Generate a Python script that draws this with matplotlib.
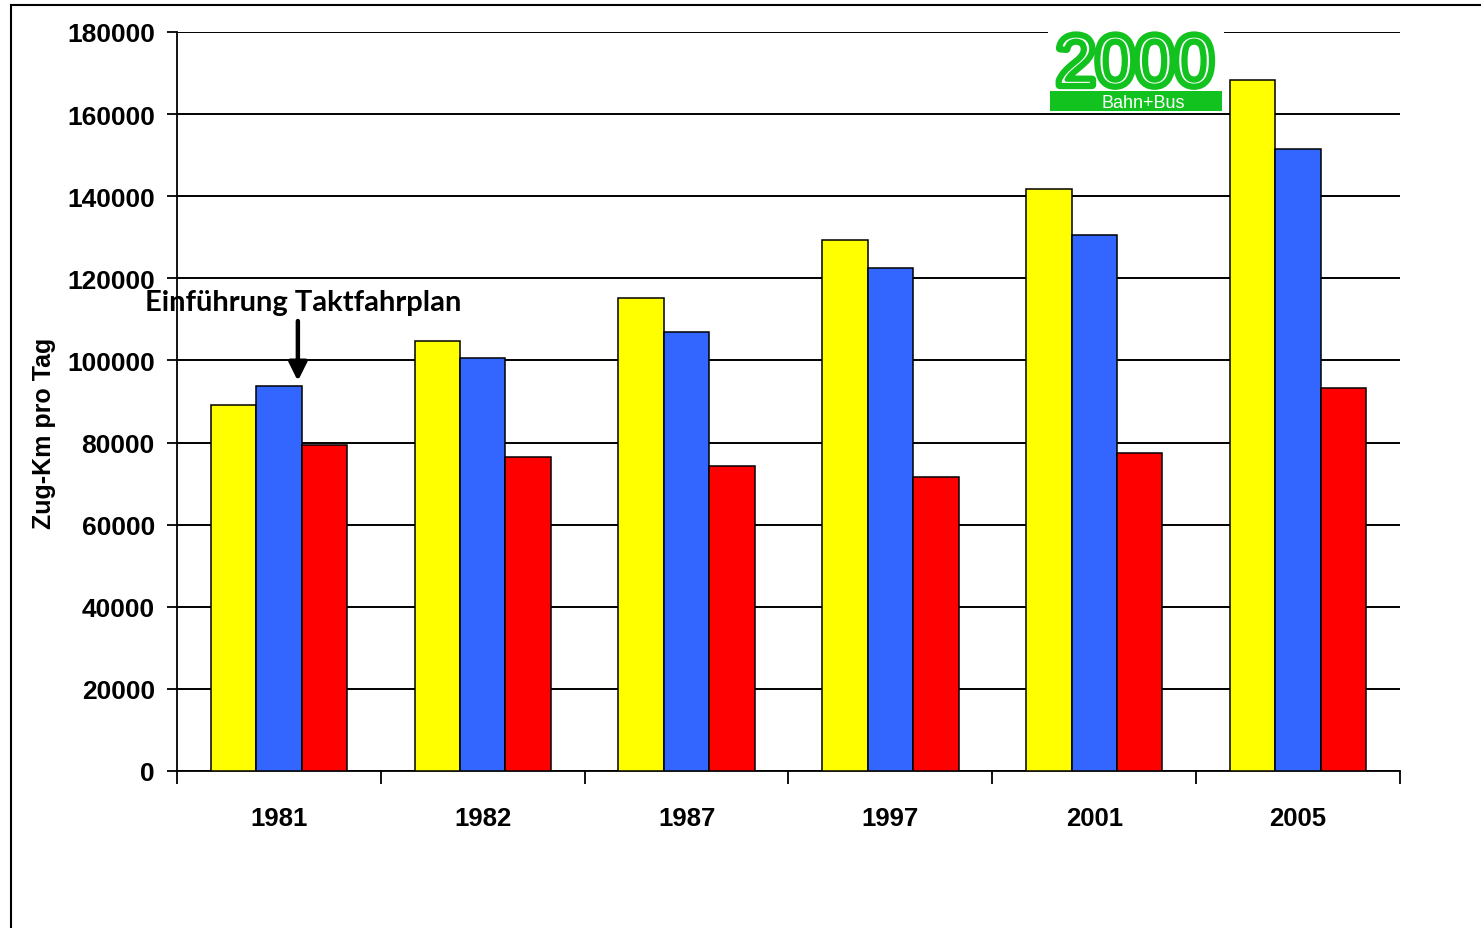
import matplotlib
matplotlib.use("Agg")
import matplotlib.pyplot as plt
import matplotlib.patheffects as pe
from matplotlib.lines import Line2D
from matplotlib.patches import Rectangle
import numpy as np

# Zug-Km pro Tag
years = ["1981", "1982", "1987", "1997", "2001", "2005"]
gelb = [89200, 104700, 115100, 129300, 141800, 168300]
blau = [93800, 100700, 107000, 122500, 130500, 151400]
rot = [79300, 76600, 74300, 71600, 77400, 93300]
yticks = [0, 20000, 40000, 60000, 80000, 100000, 120000, 140000, 160000, 180000]

W, H = 1481, 929
fig = plt.figure(figsize=(W / 100, H / 100), dpi=100)
ax = fig.add_axes([177 / W, 1 - 772 / H, 1223 / W, 739 / H])

x = np.arange(len(years))
bw = 0.223
ax.bar(x - bw, gelb, bw, color="#FFFF00", edgecolor="black", linewidth=1.1, zorder=3)
ax.bar(x, blau, bw, color="#3366FF", edgecolor="black", linewidth=1.1, zorder=3)
ax.bar(x + bw, rot, bw, color="#FF0000", edgecolor="black", linewidth=1.1, zorder=3)

ax.set_xlim(-0.5, len(years) - 0.5)
ax.set_ylim(0, 180000)
ax.set_yticks(yticks)
ax.set_yticklabels([str(v) for v in yticks], fontsize=19, fontweight="bold",
                   family="Liberation Sans")
ax.tick_params(axis="y", length=7, width=1.3, pad=9)
ax.grid(axis="y", color="black", linewidth=1.4, zorder=1)

ax.set_xticks(x)
ax.set_xticklabels(years, fontsize=18.5, fontweight="bold", family="Liberation Sans")
ax.tick_params(axis="x", which="major", length=0, pad=25)
ax.set_xticks(np.arange(len(years) + 1) - 0.5, minor=True)
ax.tick_params(axis="x", which="minor", length=9, width=1.3)

for s in ["top", "right"]:
    ax.spines[s].set_visible(False)
ax.spines["left"].set_linewidth(1.3)
ax.spines["bottom"].set_linewidth(1.3)

ax.set_ylabel("Zug-Km pro Tag", fontsize=18, fontweight="bold", family="Liberation Sans")
ax.yaxis.set_label_coords(-0.099, 0.458)

# annotation over the 1981 group
ax.text(0.118, 114200, "Einführung Taktfahrplan", fontsize=21, fontweight="bold",
        family="Lato", ha="center", va="center", zorder=5)
ax.annotate("", xy=(0.093, blau[0] + 1200), xytext=(0.093, blau[0] + 15800),
            arrowprops=dict(arrowstyle="-|>,head_width=0.55,head_length=1.1",
                            color="black", lw=3.2, shrinkA=0, shrinkB=0), zorder=5)

# logo "2000 Bahn+Bus"
green = "#12C21E"
fig.add_artist(Rectangle((1048 / W, 1 - 113 / H), 176 / W, 88 / H,
                         transform=fig.transFigure, facecolor="white", edgecolor="none", zorder=4))
fig.add_artist(Rectangle((1050 / W, 1 - 112 / H), 172 / W, 20 / H,
                         transform=fig.transFigure, facecolor=green, edgecolor="none", zorder=5))
t = fig.text(1135 / W, 1 - 86 / H, "2000", fontsize=51, color="white", family="Liberation Sans",
             ha="center", va="baseline", zorder=6)
t.set_path_effects([pe.Stroke(linewidth=6, foreground=green), pe.Normal(),
                    pe.Stroke(linewidth=3.0, foreground=green)])
fig.text(1143 / W, 1 - 104 / H, "Bahn+Bus", fontsize=13, color="white", family="Liberation Sans",
         ha="center", va="center", zorder=6)

# outer frame (top and left edges)
fig.add_artist(Line2D([10.5 / W, 10.5 / W], [0, 1 - 5.5 / H], transform=fig.transFigure,
                      color="black", linewidth=1.5))
fig.add_artist(Line2D([10.5 / W, 1], [1 - 5.5 / H, 1 - 5.5 / H], transform=fig.transFigure,
                      color="black", linewidth=1.5))

fig.savefig("out.png", dpi=100)
